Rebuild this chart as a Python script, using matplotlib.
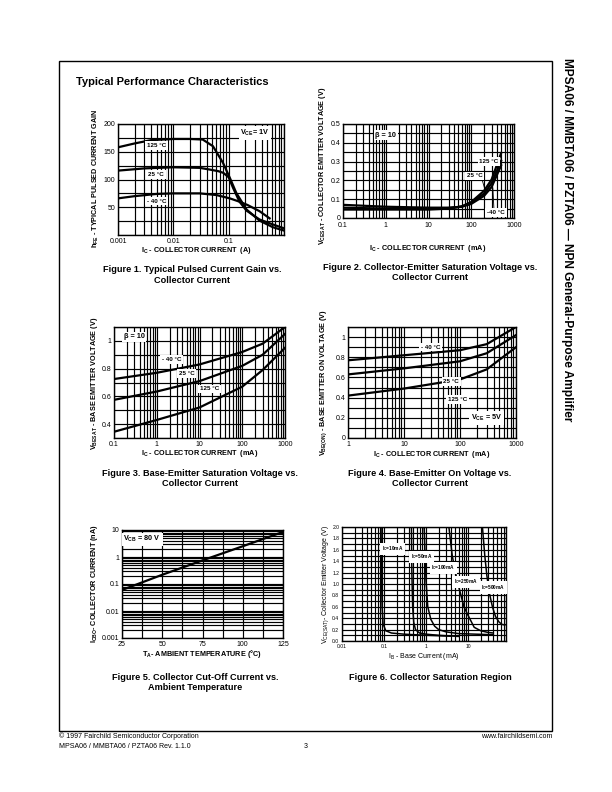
import numpy as np
import matplotlib
matplotlib.use('Agg')
import matplotlib.pyplot as plt
from matplotlib.ticker import LogLocator, FixedLocator, NullFormatter, FixedFormatter, MultipleLocator
from matplotlib.patches import Rectangle

plt.rcParams['font.family'] = ['Liberation Sans', 'DejaVu Sans']
plt.rcParams['mathtext.fontset'] = 'custom'
plt.rcParams['mathtext.rm'] = 'Liberation Sans'
plt.rcParams['mathtext.bf'] = 'Liberation Sans:bold'
plt.rcParams['mathtext.it'] = 'Liberation Sans:italic'

NARROW = ['Liberation Sans Narrow', 'Liberation Sans', 'DejaVu Sans']

# ---------------- Data ----------------
# Figure 1: hFE vs Ic (A)
hfe_125_ic = [0.001, 0.002, 0.004, 0.01, 0.02, 0.034, 0.052, 0.079, 0.105, 0.137, 0.21, 0.36, 0.63, 1.0]
hfe_125 = [158, 165, 171, 173, 173, 172, 160, 130, 103, 76, 46, 26, 14, 8]
hfe_25_ic = [0.001, 0.003, 0.01, 0.03, 0.045, 0.065, 0.08, 0.1, 0.12, 0.157, 0.21, 0.36, 0.63, 1.0]
hfe_25 = [116, 120, 122, 121, 118, 115, 112, 104, 85, 60, 44, 28, 19, 12]
hfe_m40_ic = [0.001, 0.002, 0.005, 0.01, 0.03, 0.06, 0.105, 0.157, 0.22, 0.36, 0.55]
hfe_m40 = [66, 70, 74, 75, 75, 72, 66, 60, 54, 43, 30]

# Figure 2: VCE(sat) vs Ic (mA)
vce_ic = [0.1, 1, 10, 30, 60, 100, 200, 300, 500]
vce_125 = [0.045, 0.045, 0.045, 0.05, 0.062, 0.085, 0.145, 0.205, 0.345]
vce_25 = [0.055, 0.05, 0.05, 0.053, 0.06, 0.08, 0.13, 0.185, 0.305]
vce_m40 = [0.07, 0.06, 0.055, 0.055, 0.06, 0.075, 0.118, 0.165, 0.28]

# Figure 3: VBE(sat) vs Ic (mA)
vbes_ic = [0.1, 1, 10, 100, 300, 1000]
vbes_m40 = [0.725, 0.77, 0.83, 0.92, 0.98, 1.1]
vbes_25 = [0.575, 0.635, 0.71, 0.82, 0.9, 1.05]
vbes_125 = [0.345, 0.43, 0.52, 0.67, 0.79, 0.95]

# Figure 4: VBE(on) vs Ic (mA)
vbeon_ic = [1, 10, 100, 300, 1000]
vbeon_m40 = [0.77, 0.82, 0.87, 0.93, 1.1]
vbeon_25 = [0.63, 0.69, 0.76, 0.84, 1.02]
vbeon_125 = [0.42, 0.49, 0.58, 0.68, 0.9]

# Figure 5: ICBO vs TA
icbo_t = [25, 50, 75, 100, 125]
icbo_na = [0.06, 0.22, 0.75, 2.5, 8.5]

# Figure 6: VCE(sat) vs Ib (mA) for several Ic
sat_10_ib = [0.085, 0.087, 0.09, 0.095, 0.11, 0.15, 0.3, 1.0, 4.0]
sat_10_v = [2.0, 1.2, 0.6, 0.3, 0.18, 0.14, 0.12, 0.1, 0.085]
sat_50_ib = [0.45, 0.46, 0.48, 0.51, 0.56, 0.7, 1.0, 2.0, 6.0]
sat_50_v = [2.0, 1.2, 0.6, 0.33, 0.2, 0.14, 0.12, 0.1, 0.08]
sat_100_ib = [0.9, 0.95, 1.0, 1.1, 1.3, 1.6, 2.0, 3.0, 6.0, 15, 40]
sat_100_v = [2.0, 1.5, 1.05, 0.6, 0.38, 0.26, 0.2, 0.16, 0.13, 0.12, 0.11]
sat_250_ib = [3.5, 4.2, 5.0, 6.0, 8.0, 10, 14, 20, 30, 40]
sat_250_v = [2.0, 1.5, 1.2, 0.95, 0.6, 0.45, 0.24, 0.18, 0.15, 0.14]
sat_500_ib = [22, 25, 28, 32, 38, 45, 55, 65, 75]
sat_500_v = [2.0, 1.5, 1.15, 0.85, 0.6, 0.43, 0.33, 0.29, 0.28]

# ---------------- Layout helpers ----------------
W, H = 612, 792
fig = plt.figure(figsize=(6.12, 7.92), dpi=100)


def px_axes(l, t, r, b):
    return fig.add_axes([l / W, 1 - b / H, (r - l) / W, (b - t) / H])


def ftext(x, y, s, **kw):
    kw.setdefault('ha', 'left')
    kw.setdefault('va', 'center')
    return fig.text(x / W, 1 - y / H, s, **kw)


def style(ax, tick_fs=5):
    for sp in ax.spines.values():
        sp.set_linewidth(1.0)
        sp.set_color('black')
    ax.tick_params(which='both', length=0, labelsize=tick_fs, pad=2.0, colors='black')
    ax.grid(True, which='both', color='black', lw=0.85)
    ax.set_axisbelow(True)


def log_x(ax, lo, hi, ticks, labels):
    ax.set_xscale('log')
    ax.set_xlim(lo, hi)
    ax.xaxis.set_major_locator(FixedLocator(ticks))
    ax.xaxis.set_major_formatter(FixedFormatter(labels))
    ax.xaxis.set_minor_locator(LogLocator(base=10, subs=np.arange(2, 10), numticks=60))
    ax.xaxis.set_minor_formatter(NullFormatter())


def lin_y(ax, lo, hi, ticks, labels, minor):
    ax.set_ylim(lo, hi)
    ax.yaxis.set_major_locator(FixedLocator(ticks))
    ax.yaxis.set_major_formatter(FixedFormatter(labels))
    ax.yaxis.set_minor_locator(MultipleLocator(minor))


def boxlabel(ax, x, y, s, fs=4.5, **kw):
    ax.text(x, y, s, fontsize=fs, ha='center', va='center', fontweight='bold', family=NARROW,
            bbox=dict(fc='white', ec='none', pad=1.2), zorder=5, **kw)


LW = 1.6
axlab = dict(fontsize=5.2, fontweight='bold', family=NARROW)
capt = dict(fontsize=6.6, fontweight='bold', ha='center')
DEG = '\u00b0'

# Page frame
fig.add_artist(Rectangle((59 / W, 1 - 731 / H), (552 - 59) / W, (731 - 61) / H,
                         fill=False, lw=1.0, ec='black', transform=fig.transFigure))
ftext(76, 82, 'Typical Performance Characteristics', fontsize=8, fontweight='bold')
ftext(567, 58, 'MPSA06 / MMBTA06 / PZTA06 \u2014 NPN General-Purpose Amplifier',
      fontsize=8.6, fontweight='bold', rotation=-90, ha='center', va='top')

# ---------------- Figure 1 ----------------
ax1 = px_axes(118, 124, 284, 235)
style(ax1)
log_x(ax1, 0.001, 1, [0.001, 0.01, 0.1, 1], ['0.001', '0.01', '0.1', ''])
lin_y(ax1, 0, 200, [50, 100, 150, 200], ['50', '100', '150', '200'], 25)
ax1.plot(hfe_125_ic, hfe_125, color='black', lw=LW, zorder=3)
ax1.plot(hfe_25_ic, hfe_25, color='black', lw=LW, zorder=3)
ax1.plot(hfe_m40_ic, hfe_m40, color='black', lw=LW, zorder=3)
boxlabel(ax1, 0.005, 161, '125 ' + DEG + 'C')
boxlabel(ax1, 0.0049, 109, '25 ' + DEG + 'C')
boxlabel(ax1, 0.005, 61, '- 40 ' + DEG + 'C')
boxlabel(ax1, 0.3, 184, r'V$_{\mathregular{CE}}$= 1V', fs=5.2)
ftext(96, 178, r'h$_{\mathregular{FE}}$ - TYPICAL PULSED CURRENT GAIN', rotation=90, ha='center', **axlab)
ftext(196, 250, r'I$_{\mathregular{C}}$ - COLLECTOR CURRENT  (A)', ha='center', **axlab)
ftext(192, 270, 'Figure 1. Typical Pulsed Current Gain vs.', **capt)
ftext(192, 280, 'Collector Current', **capt)

# ---------------- Figure 2 ----------------
ax2 = px_axes(343, 124, 514, 218)
style(ax2)
ax2.tick_params(axis='x', pad=3.2)
log_x(ax2, 0.1, 1000, [0.1, 1, 10, 100, 1000], ['0.1', '1', '10', '100', '1000'])
lin_y(ax2, 0, 0.5, [0, 0.1, 0.2, 0.3, 0.4, 0.5], ['0', '0.1', '0.2', '0.3', '0.4', '0.5'], 0.05)
ax2.plot(vce_ic, vce_125, color='black', lw=LW, zorder=3)
ax2.plot(vce_ic, vce_25, color='black', lw=LW, zorder=3)
ax2.plot(vce_ic, vce_m40, color='black', lw=LW, zorder=3)
boxlabel(ax2, 260, 0.30, '125 ' + DEG + 'C')
boxlabel(ax2, 120, 0.225, '25 ' + DEG + 'C')
ax2.plot([170, 210], [0.222, 0.15], color='black', lw=0.6, zorder=4)
boxlabel(ax2, 380, 0.03, '-40 ' + DEG + 'C')
ax2.plot([340, 320], [0.045, 0.16], color='black', lw=0.6, zorder=4)
boxlabel(ax2, 1.0, 0.44, '\u03b2 = 10', fs=5.2)
ftext(322, 166, r'V$_{\mathregular{CESAT}}$ - COLLECTOR EMITTER VOLTAGE (V)', rotation=90, ha='center', **axlab)
ftext(428, 248, r'I$_{\mathregular{C}}$ - COLLECTOR CURRENT  (mA)', ha='center', **axlab)
ftext(430, 268, 'Figure 2. Collector-Emitter Saturation Voltage vs.', **capt)
ftext(430, 278, 'Collector Current', **capt)

# ---------------- Figure 3 ----------------
ax3 = px_axes(114, 327, 285, 438)
style(ax3)
log_x(ax3, 0.1, 1000, [0.1, 1, 10, 100, 1000], ['0.1', '1', '10', '100', '1000'])
lin_y(ax3, 0.3, 1.1, [0.4, 0.6, 0.8, 1.0], ['0.4', '0.6', '0.8', '1'], 0.1)
ax3.plot(vbes_ic, vbes_m40, color='black', lw=LW, zorder=3)
ax3.plot(vbes_ic, vbes_25, color='black', lw=LW, zorder=3)
ax3.plot(vbes_ic, vbes_125, color='black', lw=LW, zorder=3)
boxlabel(ax3, 2.2, 0.865, '- 40 ' + DEG + 'C')
boxlabel(ax3, 5.0, 0.765, '25 ' + DEG + 'C')
boxlabel(ax3, 17, 0.655, '125 ' + DEG + 'C')
boxlabel(ax3, 0.3, 1.03, '\u03b2 = 10', fs=5.2)
ftext(94, 383, r'V$_{\mathregular{BESAT}}$ - BASE EMITTER VOLTAGE (V)', rotation=90, ha='center', **axlab)
ftext(200, 453, r'I$_{\mathregular{C}}$ - COLLECTOR CURRENT  (mA)', ha='center', **axlab)
ftext(200, 473, 'Figure 3. Base-Emitter Saturation Voltage vs.', **capt)
ftext(200, 483, 'Collector Current', **capt)

# ---------------- Figure 4 ----------------
ax4 = px_axes(348, 327, 516, 438)
style(ax4)
log_x(ax4, 1, 1000, [1, 10, 100, 1000], ['1', '10', '100', '1000'])
lin_y(ax4, 0, 1.1, [0, 0.2, 0.4, 0.6, 0.8, 1.0], ['0', '0.2', '0.4', '0.6', '0.8', '1'], 0.1)
ax4.plot(vbeon_ic, vbeon_m40, color='black', lw=LW, zorder=3)
ax4.plot(vbeon_ic, vbeon_25, color='black', lw=LW, zorder=3)
ax4.plot(vbeon_ic, vbeon_125, color='black', lw=LW, zorder=3)
boxlabel(ax4, 30, 0.9, '- 40 ' + DEG + 'C')
boxlabel(ax4, 70, 0.56, '25 ' + DEG + 'C')
boxlabel(ax4, 90, 0.38, '125 ' + DEG + 'C')
boxlabel(ax4, 300, 0.2, r'V$_{\mathregular{CE}}$ = 5V', fs=5.2)
ftext(324, 383, r'V$_{\mathregular{BE(ON)}}$ - BASE EMITTER ON VOLTAGE (V)', rotation=90, ha='center', **axlab)
ftext(432, 455, r'I$_{\mathregular{C}}$ - COLLECTOR CURRENT  (mA)', ha='center', **axlab)
ftext(430, 473, 'Figure 4. Base-Emitter On Voltage vs.', **capt)
ftext(430, 483, 'Collector Current', **capt)

# ---------------- Figure 5 ----------------
ax5 = px_axes(122, 530, 283, 638)
style(ax5)
ax5.set_yscale('log')
ax5.set_ylim(0.001, 10)
ax5.yaxis.set_major_locator(FixedLocator([0.001, 0.01, 0.1, 1, 10]))
ax5.yaxis.set_major_formatter(FixedFormatter(['0.001', '0.01', '0.1', '1', '10']))
ax5.yaxis.set_minor_locator(LogLocator(base=10, subs=np.arange(2, 10), numticks=60))
ax5.yaxis.set_minor_formatter(NullFormatter())
ax5.set_xlim(25, 125)
ax5.xaxis.set_major_locator(FixedLocator([25, 50, 75, 100, 125]))
ax5.xaxis.set_minor_locator(MultipleLocator(12.5))
ax5.plot(icbo_t, icbo_na, color='black', lw=LW, zorder=3)
boxlabel(ax5, 37.5, 4.5, r'V$_{\mathregular{CB}}$ = 80 V', fs=5.2)
ftext(94, 584, r'I$_{\mathregular{CBO}}$- COLLECTOR CURRENT (nA)', rotation=90, ha='center', **axlab)
ftext(202, 654, r'T$_{\mathregular{A}}$- AMBIENT TEMPERATURE (' + DEG + 'C)', ha='center', **axlab)
ftext(195, 677, 'Figure 5. Collector Cut-Off Current vs.', **capt)
ftext(195, 687, 'Ambient Temperature', **capt)

# ---------------- Figure 6 ----------------
ax6 = px_axes(342, 527, 506, 641)
style(ax6, tick_fs=3.6)
log_x(ax6, 0.01, 80, [0.01, 0.1, 1, 10], ['0.01', '0.1', '1', '10'])
lin_y(ax6, 0, 2.0, list(np.round(np.arange(0, 2.01, 0.2), 1)),
      ['%.1f' % v for v in np.arange(0, 2.01, 0.2)], 0.1)
for xs, ys in [(sat_10_ib, sat_10_v), (sat_50_ib, sat_50_v), (sat_100_ib, sat_100_v),
               (sat_250_ib, sat_250_v), (sat_500_ib, sat_500_v)]:
    ax6.plot(xs, ys, color='black', lw=1.1, zorder=3)
lab6 = dict(fs=3.4)
boxlabel(ax6, 0.16, 1.62, r'I$_{\mathregular{C}}$=10mA', **lab6)
boxlabel(ax6, 0.78, 1.48, r'I$_{\mathregular{C}}$=50mA', **lab6)
boxlabel(ax6, 2.6, 1.28, r'I$_{\mathregular{C}}$=100mA', **lab6)
boxlabel(ax6, 9.0, 1.04, r'I$_{\mathregular{C}}$=250mA', **lab6)
boxlabel(ax6, 40, 0.94, r'I$_{\mathregular{C}}$=500mA', **lab6)
ftext(326, 584, r'V$_{\mathregular{CE(SAT)}}$- Collector Emitter Voltage (V)', rotation=90, ha='center',
      fontsize=5.0, family=NARROW)
ftext(424, 656, r'I$_{\mathregular{B}}$ - Base Current (mA)', ha='center', fontsize=5.0, family=NARROW)
ftext(430, 677, 'Figure 6. Collector Saturation Region', **capt)

# ---------------- Footer ----------------
ftext(59, 736, '\u00a9 1997 Fairchild Semiconductor Corporation', fontsize=5)
ftext(552, 736, 'www.fairchildsemi.com', fontsize=5, ha='right')
ftext(59, 746, 'MPSA06 / MMBTA06 / PZTA06 Rev. 1.1.0', fontsize=5)
ftext(306, 746, '3', fontsize=5, ha='center')

fig.savefig('out.png', dpi=100, facecolor='white')
